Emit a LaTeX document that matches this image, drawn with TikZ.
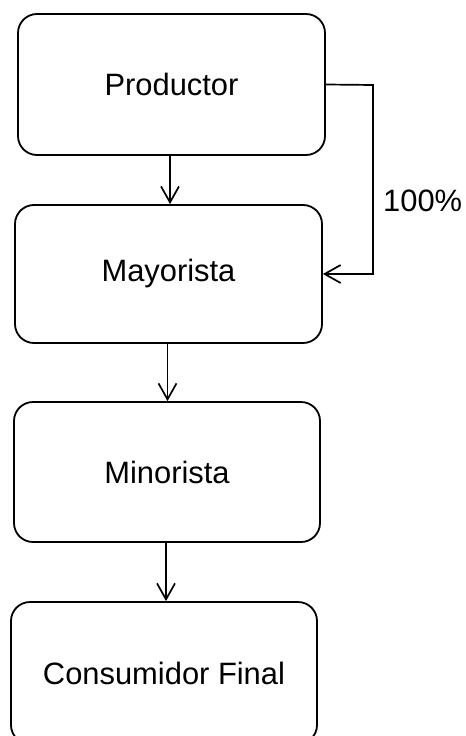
\documentclass[tikz,border=0pt]{standalone}
\usepackage{fontspec}
\setmainfont{Liberation Sans}
\usetikzlibrary{arrows.meta}
\begin{document}
\begin{tikzpicture}[x=1bp,y=-1bp,
  box/.style={draw, line width=1.8bp, rounded corners=19bp, inner sep=0pt,
    minimum width=307bp, font=\fontsize{31}{37}\selectfont},
  arr/.style={draw, line width=1.7bp, -{Straight Barb[length=16bp,width=18bp,line width=1.7bp]}},
  lbl/.style={font=\fontsize{31}{37}\selectfont, inner sep=0pt}]
\useasboundingbox (0,0) rectangle (466,736);
\node[box, minimum height=141bp] (p) at (171.5,84.5) {Productor};
\node[box, minimum height=138bp] (ma) at (168.5,274) {Mayorista};
\node[box, minimum height=140bp, minimum width=306bp] (mi) at (167,472) {Minorista};
\node[box, minimum height=142bp, minimum width=306bp] (c) at (164,673) {Consumidor Final};
\coordinate (r) at (373,85);
\draw[arr] ([xshift=-1.5bp]p.south) -- ([xshift=-1.5bp]p.south |- ma.north);
\draw[arr] ([xshift=-1bp]ma.south) -- ([xshift=-1bp]ma.south |- mi.north);
\draw[arr] ([xshift=-1bp]mi.south) -- ([xshift=-1bp]mi.south |- c.north);
\draw[arr] (p.east) -- (r) |- (ma.east);
\node[lbl, anchor=west] (pct) at (383,201) {100\%};
\end{tikzpicture}
\end{document}
